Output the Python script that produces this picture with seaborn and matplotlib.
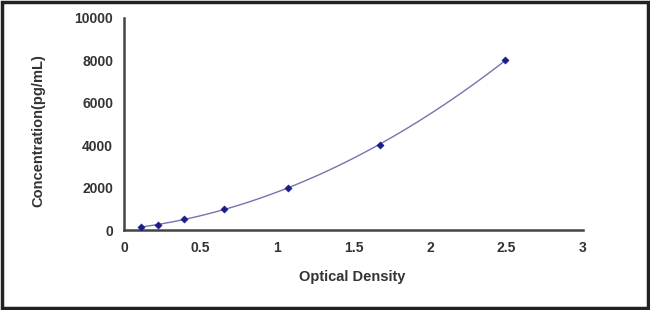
import matplotlib
matplotlib.use("Agg")
import matplotlib.pyplot as plt
import seaborn as sns
import pandas as pd
from matplotlib.patches import Rectangle

od = [0.11, 0.22, 0.39, 0.65, 1.07, 1.67, 2.49]
conc = [125, 250, 500, 1000, 2000, 4000, 8000]
x_ticks = [0, 0.5, 1, 1.5, 2, 2.5, 3]
x_tick_labels = ["0", "0.5", "1", "1.5", "2", "2.5", "3"]
y_ticks = [0, 2000, 4000, 6000, 8000, 10000]
y_tick_labels = ["0", "2000", "4000", "6000", "8000", "10000"]

df = pd.DataFrame({"od": od, "conc": conc})

sns.set_style("white")
plt.rcParams["font.family"] = ["Liberation Sans", "DejaVu Sans"]

fig = plt.figure(figsize=(6.5, 3.1), dpi=100)
ax = fig.add_axes([0.191, 0.258, 0.706, 0.684])

sns.regplot(data=df, x="od", y="conc", order=2, ci=None, ax=ax,
            scatter=False, line_kws={"color": "#7474b0", "lw": 1.0})
sns.scatterplot(data=df, x="od", y="conc", ax=ax, marker="D", s=14,
                color="#1c1c8a", edgecolor="#1c1c8a", zorder=3)

ax.set_xlim(0, 3)
ax.set_ylim(0, 10000)
ax.set_xticks(x_ticks)
ax.set_xticklabels(x_tick_labels, fontsize=10, fontweight="bold", color="#333333")
ax.set_yticks(y_ticks)
ax.set_yticklabels(y_tick_labels, fontsize=10, fontweight="bold", color="#333333")
ax.tick_params(axis="both", direction="in", length=4, width=1.2, color="#444444", pad=8)
ax.set_xlabel("Optical Density", fontsize=10.5, fontweight="bold", color="#333333")
ax.set_ylabel("Concentration(pg/mL)", fontsize=10.5, fontweight="bold", color="#333333")
ax.xaxis.set_label_coords(0.497, -0.19)
ax.yaxis.set_label_coords(-0.172, 0.467)

for s in ["top", "right"]:
    ax.spines[s].set_visible(False)
for s in ["left", "bottom"]:
    ax.spines[s].set_color("#444444")
    ax.spines[s].set_linewidth(1.8)

fig.patches.append(Rectangle((0.003, 0.005), 0.994, 0.99, transform=fig.transFigure,
                             fill=False, edgecolor="#222222", linewidth=2.5))

fig.savefig("out.png", dpi=100)
